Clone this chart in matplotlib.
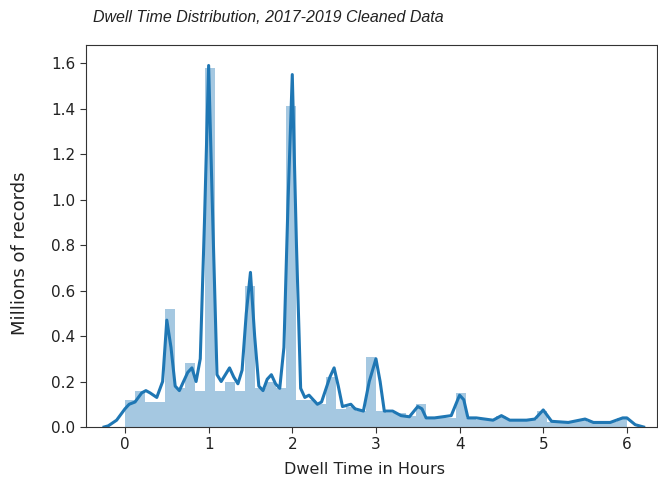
import matplotlib
matplotlib.use("Agg")
import matplotlib.pyplot as plt
import numpy as np

# Histogram: 50 bins of 0.12 h from 0 to 6 h (heights in millions / density units)
bin_edges_start = 0.0
bin_width = 0.12
bar_heights = [
    0.12, 0.16, 0.11, 0.11, 0.52, 0.17, 0.28, 0.16, 1.58, 0.16,
    0.20, 0.16, 0.62, 0.17, 0.20, 0.17, 1.41, 0.12, 0.12, 0.10,
    0.22, 0.08, 0.09, 0.07, 0.31, 0.07, 0.06, 0.06, 0.05, 0.10,
    0.04, 0.04, 0.04, 0.15, 0.04, 0.03, 0.03, 0.05, 0.03, 0.03,
    0.03, 0.07, 0.02, 0.02, 0.02, 0.03, 0.02, 0.02, 0.02, 0.04,
]

# KDE curve
kde_x = [-0.25, -0.2, -0.1, 0.0, 0.05, 0.12, 0.2, 0.25, 0.3, 0.38, 0.45, 0.5,
         0.55, 0.6, 0.65, 0.75, 0.8, 0.85, 0.9, 0.95, 1.0, 1.05, 1.1, 1.15,
         1.25, 1.3, 1.35, 1.4, 1.45, 1.5, 1.55, 1.6, 1.65, 1.7, 1.75, 1.8,
         1.85, 1.9, 1.95, 2.0, 2.05, 2.1, 2.15, 2.2, 2.3, 2.35, 2.45, 2.5,
         2.55, 2.6, 2.7, 2.75, 2.85, 2.92, 3.0, 3.05, 3.1, 3.2, 3.3, 3.4,
         3.5, 3.55, 3.6, 3.7, 3.8, 3.9, 4.0, 4.05, 4.1, 4.2, 4.3, 4.4,
         4.5, 4.6, 4.8, 4.9, 5.0, 5.05, 5.1, 5.3, 5.5, 5.6, 5.8, 5.95,
         6.0, 6.1, 6.2]
kde_y = [0.0, 0.005, 0.03, 0.08, 0.10, 0.11, 0.15, 0.16, 0.15, 0.13, 0.20, 0.47,
         0.35, 0.18, 0.16, 0.24, 0.26, 0.20, 0.30, 0.90, 1.59, 0.90, 0.23, 0.20,
         0.26, 0.22, 0.19, 0.25, 0.50, 0.68, 0.40, 0.18, 0.16, 0.21, 0.23, 0.19,
         0.17, 0.35, 1.00, 1.55, 0.80, 0.17, 0.13, 0.14, 0.10, 0.11, 0.22, 0.26,
         0.18, 0.09, 0.10, 0.08, 0.07, 0.20, 0.30, 0.20, 0.07, 0.07, 0.05, 0.045,
         0.09, 0.08, 0.04, 0.04, 0.045, 0.05, 0.14, 0.12, 0.04, 0.04, 0.035, 0.03,
         0.05, 0.03, 0.03, 0.035, 0.075, 0.05, 0.025, 0.02, 0.035, 0.02, 0.02, 0.04,
         0.04, 0.01, 0.0]

x_ticks = [0, 1, 2, 3, 4, 5, 6]
y_ticks = [0.0, 0.2, 0.4, 0.6, 0.8, 1.0, 1.2, 1.4, 1.6]

title_text = "Dwell Time Distribution, 2017-2019 Cleaned Data"
x_label = "Dwell Time in Hours"
y_label = "Millions of records"

color = "#1f77b4"

fig = plt.figure(figsize=(6.58, 4.87), dpi=100)
ax = fig.add_axes([86 / 658, 1 - 427 / 487, 571 / 658, (427 - 45) / 487])

lefts = [bin_edges_start + i * bin_width for i in range(len(bar_heights))]
ax.bar(lefts, bar_heights, width=bin_width, align="edge", color=color,
       alpha=0.4, linewidth=0)
ax.plot(kde_x, kde_y, color=color, linewidth=2.2)

ax.set_xlim(-0.466, 6.36)
ax.set_ylim(0, 1.68)
ax.set_xticks(x_ticks)
ax.set_yticks(y_ticks)
ax.set_yticklabels([f"{v:.1f}" for v in y_ticks])
ax.tick_params(labelsize=11, length=4, color="#333333", labelcolor="#222222")
for s in ax.spines.values():
    s.set_color("#333333")

ax.set_xlabel(x_label, fontsize=11.5, color="#222222", va="center")
ax.xaxis.set_label_coords((365 - 86) / 571, (427 - 470) / 382)
ax.set_ylabel(y_label, fontsize=13, color="#222222", va="center")
ax.yaxis.set_label_coords((20 - 86) / 571, (427 - 253) / 382)

fig.text(93 / 658, 1 - 18 / 487, title_text, fontsize=11.5, style="italic",
         family="Liberation Sans", ha="left", va="center", color="#222222")

fig.savefig("out.png", dpi=100)
